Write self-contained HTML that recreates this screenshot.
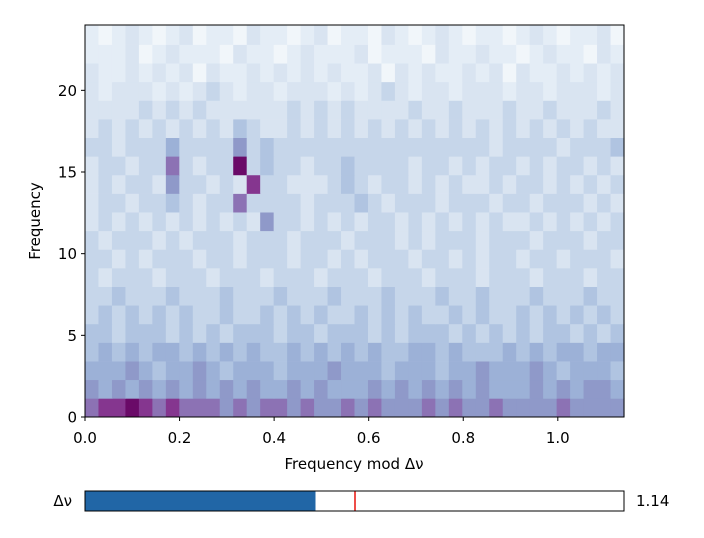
<!DOCTYPE html>
<html><head><meta charset="utf-8"><style>
body{margin:0;background:#fff;width:704px;height:533px;overflow:hidden}
svg text{font-family:"DejaVu Sans","Liberation Sans",sans-serif;font-size:15px;fill:#000}
</style></head><body>
<svg id="svg" width="704" height="533" xmlns="http://www.w3.org/2000/svg">
<g id="cells"></g>
<rect x="85" y="25" width="539" height="392" fill="none" stroke="#000" stroke-width="1"/>
<g id="xt"></g>
<g id="yt"></g>
<text x="354" y="469" text-anchor="middle">Frequency mod Δν</text>
<text transform="translate(40,221) rotate(-90)" text-anchor="middle">Frequency</text>
<g>
<rect x="85" y="491" width="539" height="20" fill="#fff" stroke="#000"/>
<rect x="85.5" y="491.5" width="230" height="19" fill="#2166a6"/>
<line x1="355" y1="491" x2="355" y2="511" stroke="#e8120c" stroke-width="1.5"/>
<rect x="85" y="491" width="539" height="20" fill="none" stroke="#000"/>
</g>
<text x="72" y="506" text-anchor="end">Δν</text>
<text x="636" y="506">1.14</text>
</svg>
<script>
const dnu = 1.14;
const xMax = 1.14;
const yMax = 24;
const xTicks = [0.0, 0.2, 0.4, 0.6, 0.8, 1.0];
const xTickLabels = ["0.0","0.2","0.4","0.6","0.8","1.0"];
const yTicks = [0, 5, 10, 15, 20];
const yTickLabels = ["0","5","10","15","20"];
// intensity rows (0-9), from row 0 (bottom) upward, 40 columns across 0..dnu
const rows = [
"7889878777676776766767666767667666676666",
"6565656565656556565556565656565556565665",
"5556545565455545556555455545565556545554",
"4545455454545445454545445545444545455455",
"4434443434344434434443434443434343443434",
"3434343433433434343343434334343343434343",
"3343334333433343334333433343343334333433",
"3233323332333233323332333233323332333233",
"3323233323323332332323332332323323323332",
"3233323233323332333233323233323332333233",
"2323232323232633232323323232323223232323",
"2332334323373333233343233323332332333232",
"2323326332328332223432332323223233232323",
"2332337323393433233433332332323323233232",
"3323335333363433333333333333332333323334",
"2323232323243223232323232323232323232322",
"2222323232222223232322223223222322322232",
"2122212123212212221212321221222122122212",
"2112121202112121212112021211212021121212",
"1112012111021101211120111021121101211021",
"1012101201102110120110210121011012101120",
"1012101201102110120110210121011012101120"
];
const palette=["#f1f6fa","#e4edf6","#d9e4f1","#c6d6ea","#b0c4e1","#9cb1d7","#8f99c9","#8c72b4","#85368f","#6a0a68"];
const X0=85,X1=624,Y0=417,Y1=25;
const sx=v=>X0+(v/xMax)*(X1-X0);
const sy=v=>Y0-(v/yMax)*(Y0-Y1);
const NS="http://www.w3.org/2000/svg";
const cells=document.getElementById('cells');
rows.forEach((r,k)=>{
  const n=r.length, yb=k*dnu, yt=Math.min((k+1)*dnu,yMax);
  if(yb>=yMax) return;
  for(let i=0;i<n;i++){
    const x0=sx(i*dnu/n), x1=sx((i+1)*dnu/n);
    const el=document.createElementNS(NS,'rect');
    el.setAttribute('x',x0);el.setAttribute('width',x1-x0+0.6);
    el.setAttribute('y',sy(yt));el.setAttribute('height',sy(yb)-sy(yt)+0.3);
    el.setAttribute('fill',palette[+r[i]]);
    
    
    cells.appendChild(el);
  }
});
const xt=document.getElementById('xt');
xTicks.forEach((v,i)=>{
  const x=sx(v);
  const l=document.createElementNS(NS,'line');
  l.setAttribute('x1',x);l.setAttribute('x2',x);l.setAttribute('y1',417);l.setAttribute('y2',421);l.setAttribute('stroke','#000');
  
  
  xt.appendChild(l);
  const t=document.createElementNS(NS,'text');
  t.setAttribute('x',x);t.setAttribute('y',443);t.setAttribute('text-anchor','middle');t.textContent=xTickLabels[i];
  
  
  xt.appendChild(t);
});
const yt=document.getElementById('yt');
yTicks.forEach((v,i)=>{
  const y=sy(v);
  const l=document.createElementNS(NS,'line');
  l.setAttribute('x1',81);l.setAttribute('x2',85);l.setAttribute('y1',y);l.setAttribute('y2',y);l.setAttribute('stroke','#000');
  
  
  yt.appendChild(l);
  const t=document.createElementNS(NS,'text');
  t.setAttribute('x',77);t.setAttribute('y',y+5.5);t.setAttribute('text-anchor','end');t.textContent=yTickLabels[i];
  
  
  yt.appendChild(t);
});
</script>
</body></html>
